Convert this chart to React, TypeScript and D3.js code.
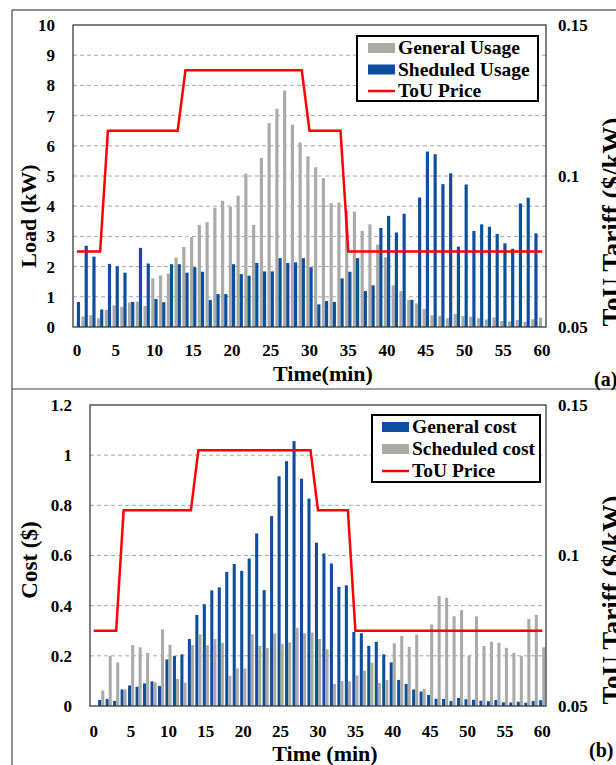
import React from 'react';
import * as d3 from 'd3';

// minutes on the category axis (0..60)
const minutes = [
  0, 1, 2, 3, 4, 5, 6, 7, 8, 9, 10, 11, 12, 13, 14, 15, 16, 17, 18, 19, 20,
  21, 22, 23, 24, 25, 26, 27, 28, 29, 30, 31, 32, 33, 34, 35, 36, 37, 38, 39, 40,
  41, 42, 43, 44, 45, 46, 47, 48, 49, 50, 51, 52, 53, 54, 55, 56, 57, 58, 59, 60,
];
const xTickLabels = [0, 5, 10, 15, 20, 25, 30, 35, 40, 45, 50, 55, 60];

// ToU price ($/kW) per minute
const touPrice = [
  0.075, 0.075, 0.075, 0.075,
  0.115, 0.115, 0.115, 0.115, 0.115, 0.115, 0.115, 0.115, 0.115, 0.115,
  0.135, 0.135, 0.135, 0.135, 0.135, 0.135, 0.135, 0.135, 0.135, 0.135, 0.135, 0.135, 0.135, 0.135, 0.135, 0.135,
  0.115, 0.115, 0.115, 0.115, 0.115,
  0.075, 0.075, 0.075, 0.075, 0.075, 0.075, 0.075, 0.075, 0.075, 0.075, 0.075, 0.075, 0.075,
  0.075, 0.075, 0.075, 0.075, 0.075, 0.075, 0.075, 0.075, 0.075, 0.075, 0.075, 0.075, 0.075,
];

// (a) load in kW
const generalUsage = [
  0, 0.35, 0.39, 0.29, 0.57, 0.72, 0.67, 0.81, 0.84, 0.7, 1.61,
  1.71, 1.77, 2.3, 2.65, 2.98, 3.38, 3.47, 3.95, 4.18, 3.98,
  4.35, 5.08, 3.38, 5.6, 6.75, 7.23, 7.83, 6.7, 6.11, 5.65,
  5.29, 4.93, 4.1, 4.12, 3.85, 3.82, 3.18, 3.4, 2.73, 2.31,
  1.38, 1.19, 0.9, 0.78, 0.6, 0.39, 0.37, 0.29, 0.43, 0.36,
  0.34, 0.29, 0.25, 0.32, 0.2, 0.18, 0.23, 0.17, 0.26, 0.31,
];
const scheduledUsage = [
  0.83, 2.69, 2.33, 0.58, 2.09, 2.01, 1.8, 0.83, 2.62, 2.1, 0.93,
  0.82, 2.08, 2.08, 1.8, 1.98, 1.83, 0.89, 1.09, 1.09, 2.08,
  1.75, 1.7, 2.12, 1.84, 1.84, 2.28, 2.12, 2.14, 2.28, 1.98,
  0.75, 0.86, 0.83, 1.61, 1.83, 2.28, 1.19, 1.38, 3.28, 3.68,
  3.13, 3.75, 0.9, 4.29, 5.81, 5.72, 4.73, 5.09, 2.66, 4.72,
  3.18, 3.4, 3.32, 3.08, 2.77, 2.59, 4.09, 4.28, 3.1, 0,
];

// (b) cost in $
const generalCost = [
  0, 0.024, 0.028, 0.02, 0.066, 0.082, 0.077, 0.09, 0.098, 0.08, 0.186,
  0.199, 0.206, 0.267, 0.363, 0.406, 0.461, 0.473, 0.535, 0.566, 0.539,
  0.588, 0.688, 0.462, 0.757, 0.916, 0.976, 1.056, 0.906, 0.827, 0.651,
  0.608, 0.568, 0.475, 0.481, 0.295, 0.29, 0.24, 0.256, 0.206, 0.174,
  0.104, 0.088, 0.066, 0.058, 0.044, 0.029, 0.028, 0.02, 0.032, 0.027,
  0.025, 0.021, 0.019, 0.024, 0.015, 0.014, 0.017, 0.013, 0.02, 0.023,
];
const scheduledCost = [
  0, 0.062, 0.2, 0.174, 0.066, 0.243, 0.234, 0.211, 0.094, 0.305, 0.244,
  0.108, 0.093, 0.243, 0.286, 0.243, 0.267, 0.252, 0.121, 0.15, 0.15,
  0.286, 0.24, 0.231, 0.29, 0.248, 0.254, 0.312, 0.29, 0.293, 0.267,
  0.226, 0.088, 0.1, 0.098, 0.122, 0.141, 0.173, 0.092, 0.104, 0.25,
  0.279, 0.236, 0.285, 0.068, 0.325, 0.438, 0.431, 0.358, 0.382, 0.2,
  0.357, 0.239, 0.256, 0.252, 0.232, 0.212, 0.2, 0.347, 0.363, 0.234,
];

const loadTicks = [0, 1, 2, 3, 4, 5, 6, 7, 8, 9, 10];
const costTicks = [0, 0.2, 0.4, 0.6, 0.8, 1, 1.2];
const tariffTicks = [0.05, 0.1, 0.15];

const FONT = '"Liberation Serif", "Times New Roman", serif';
const GRAY = '#aca9a9';
const BLUE = '#0d4f9c';
const RED = '#ff0000';

function Panel(p: any) {
  const { box } = p;
  const x = d3.scaleBand<number>().domain(minutes).range([box.left, box.right]);
  const bw = x.bandwidth();
  const cx = (m: number) => (x(m) as number) + bw / 2;
  const y = d3.scaleLinear().domain([0, p.yMax]).range([box.bottom, box.top]);
  const yR = d3.scaleLinear().domain([0.05, 0.15]).range([box.bottom, box.top]);
  const barW = bw * 0.41;
  const priceLine = d3.line<number>()
    .x((d, i) => cx(minutes[i]))
    .y(d => yR(d))(touPrice);
  const lg = p.legend;

  return (
    <g fontFamily={FONT} fontWeight="bold" fill="#000">
      {/* grid */}
      {p.yTicks.slice(1, -1).map((t: number) => (
        <line key={t} x1={box.left} x2={box.right} y1={y(t)} y2={y(t)}
          stroke="#a6a6a6" strokeDasharray="4,3" strokeWidth={1} />
      ))}
      {/* bars: first series left of centre, second right */}
      {p.bars.map((s: any, k: number) =>
        s.values.map((v: number, i: number) => (
          <rect key={k + '-' + i} x={cx(minutes[i]) - (k === 0 ? barW : 0)} y={y(v)}
            width={barW} height={y(0) - y(v)} fill={s.color} />
        ))
      )}
      <path d={priceLine || ''} fill="none" stroke={RED} strokeWidth={2.5} strokeLinejoin="miter" />
      <rect x={box.left} y={box.top} width={box.right - box.left} height={box.bottom - box.top}
        fill="none" stroke="#3a3a3a" strokeWidth={1.3} />

      {/* left axis */}
      {p.yTicks.map((t: number) => (
        <text key={t} x={p.yLabelX} y={y(t)} dy="0.35em" textAnchor="end" fontSize={17}>
          {p.yFmt(t)}
        </text>
      ))}
      {/* right axis */}
      {tariffTicks.map(t => (
        <text key={t} x={558} y={yR(t)} dy="0.35em" fontSize={17}>{String(t)}</text>
      ))}
      {/* x axis */}
      {xTickLabels.map(t => (
        <text key={t} x={cx(t)} y={p.xLabelY} textAnchor="middle" fontSize={17}>{t}</text>
      ))}

      <text transform={`translate(${p.yTitleX},${p.yTitleY}) rotate(-90)`} textAnchor="middle" fontSize={p.yTitleSize}>
        {p.yTitle}
      </text>
      <text transform={`translate(621,${p.rTitleY}) rotate(-90)`} textAnchor="middle" fontSize={27}>
        ToU Tariff ($/kW)
      </text>
      <text x={p.xTitleX} y={p.xTitleY} textAnchor="middle" fontSize={22}>{p.xTitle}</text>
      <text x={p.tagX} y={p.tagY} fontSize={20}>{p.tag}</text>

      {/* legend */}
      <rect x={lg.x} y={lg.y} width={lg.w} height={lg.h} fill="#fff" stroke="#000" strokeWidth={2} />
      {lg.items.map((it: any, i: number) => {
        const ry = lg.rowY[i];
        return (
          <g key={it.label}>
            {it.line
              ? <line x1={lg.sx} x2={lg.sx + 27} y1={ry} y2={ry} stroke={it.color} strokeWidth={2.5} />
              : <rect x={lg.sx} y={ry - 5} width={27} height={10} fill={it.color} />}
            <text x={lg.sx + 30} y={ry + 6} fontSize={19.5}>{it.label}</text>
          </g>
        );
      })}
    </g>
  );
}

export default function App() {
  return (
    <svg width={616} height={765} style={{ position: 'absolute', left: 0, top: 0, background: '#fff' }}>
      <rect x={0} y={0} width={616} height={765} fill="#fff" />
      {/* figure frame */}
      <line x1={12} x2={616} y1={10} y2={10} stroke="#222" strokeWidth={1} />
      <line x1={12} x2={12} y1={10} y2={765} stroke="#222" strokeWidth={1} />
      <line x1={12} x2={616} y1={389} y2={389} stroke="#444" strokeWidth={1} />

      <Panel
        box={{ left: 73, right: 546, top: 25, bottom: 327 }}
        yMax={10}
        yTicks={loadTicks}
        yFmt={(t: number) => String(t)}
        yLabelX={55}
        xLabelY={356}
        bars={[{ values: generalUsage, color: GRAY }, { values: scheduledUsage, color: BLUE }]}
        yTitle="Load (kW)" yTitleX={36} yTitleY={216} yTitleSize={22}
        rTitleY={222}
        xTitle="Time(min)" xTitleX={323} xTitleY={381}
        tag="(a)" tagX={594} tagY={386}
        legend={{
          x: 357, y: 36, w: 181, h: 65, sx: 368, rowY: [48, 69.5, 91],
          items: [
            { label: 'General Usage', color: GRAY },
            { label: 'Sheduled Usage', color: BLUE },
            { label: 'ToU Price', color: RED, line: true },
          ],
        }}
      />
      <Panel
        box={{ left: 90, right: 546, top: 405, bottom: 706 }}
        yMax={1.2}
        yTicks={costTicks}
        yFmt={(t: number) => String(+t.toFixed(1))}
        yLabelX={72}
        xLabelY={737}
        bars={[{ values: generalCost, color: BLUE }, { values: scheduledCost, color: GRAY }]}
        yTitle="Cost ($)" yTitleX={37} yTitleY={560} yTitleSize={23}
        rTitleY={600}
        xTitle="Time (min)" xTitleX={325} xTitleY={761}
        tag="(b)" tagX={589} tagY={757}
        legend={{
          x: 372, y: 415, w: 168, h: 67, sx: 382, rowY: [427, 449, 471],
          items: [
            { label: 'General cost', color: BLUE },
            { label: 'Scheduled cost', color: GRAY },
            { label: 'ToU Price', color: RED, line: true },
          ],
        }}
      />
    </svg>
  );
}
